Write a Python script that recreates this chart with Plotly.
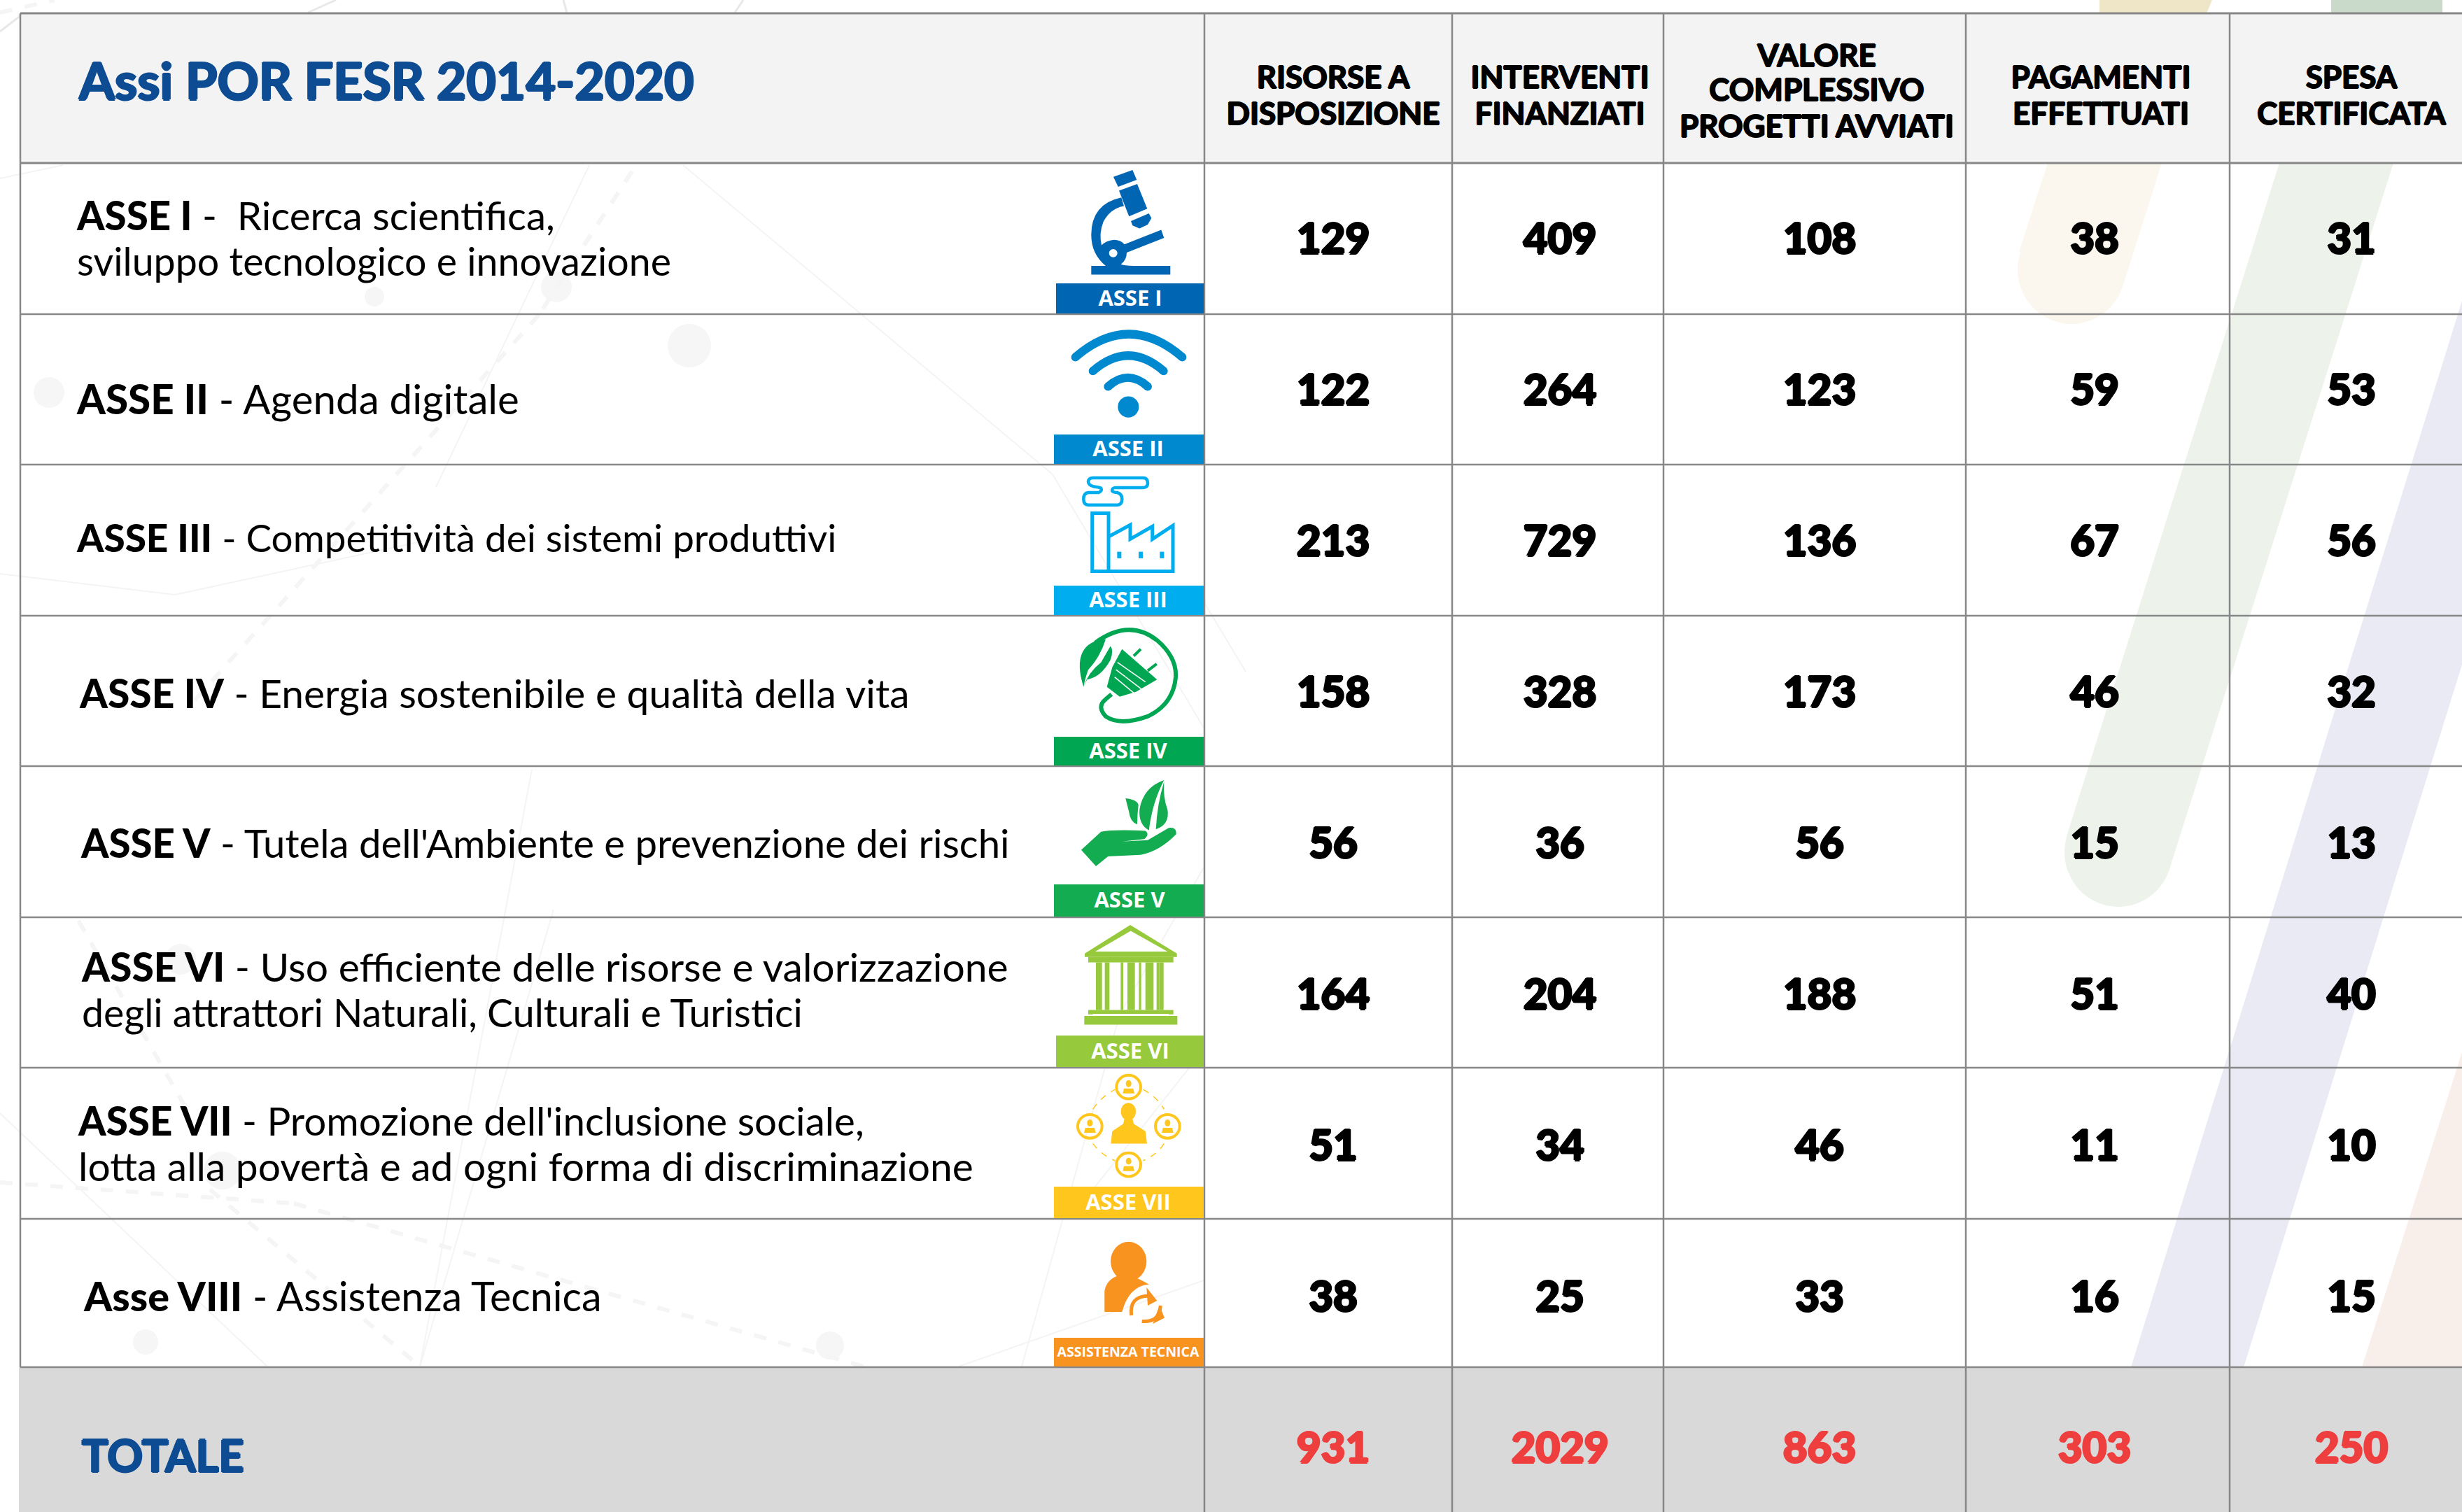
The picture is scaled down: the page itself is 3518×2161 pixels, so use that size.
import re
import plotly.graph_objects as go

# ---------- DATA ----------
title = "Assi POR FESR 2014-2020"
total_label = "TOTALE"
axis_names = ["ASSE I", "ASSE II", "ASSE III", "ASSE IV", "ASSE V", "ASSE VI", "ASSE VII", "Asse VIII"]
axis_desc = [
    ["-  Ricerca scientifica,", "sviluppo tecnologico e innovazione"],
    ["- Agenda digitale"],
    ["- Competitività dei sistemi produttivi"],
    ["- Energia sostenibile e qualità della vita"],
    ["- Tutela dell'Ambiente e prevenzione dei rischi"],
    ["- Uso efficiente delle risorse e valorizzazione", "degli attrattori Naturali, Culturali e Turistici"],
    ["- Promozione dell'inclusione sociale,", "lotta alla povertà e ad ogni forma di discriminazione"],
    ["- Assistenza Tecnica"],
]
badge_labels = ["ASSE I", "ASSE II", "ASSE III", "ASSE IV", "ASSE V", "ASSE VI", "ASSE VII", "ASSISTENZA TECNICA"]
col_headers = [
    ["RISORSE A", "DISPOSIZIONE"],
    ["INTERVENTI", "FINANZIATI"],
    ["VALORE", "COMPLESSIVO", "PROGETTI AVVIATI"],
    ["PAGAMENTI", "EFFETTUATI"],
    ["SPESA", "CERTIFICATA"],
]
risorse = [129, 122, 213, 158, 56, 164, 51, 38]
interventi = [409, 264, 729, 328, 36, 204, 34, 25]
valore = [108, 123, 136, 173, 56, 188, 46, 33]
pagamenti = [38, 59, 67, 46, 15, 51, 11, 16]
spesa = [31, 53, 56, 32, 13, 40, 10, 15]
totali = [931, 2029, 863, 303, 250]

# ---------- LAYOUT GEOMETRY (pixel axis units) ----------
W, H = 3518, 2161
row_lines = [233, 449, 664, 880, 1095, 1311, 1526, 1742, 1954]
col_lines = [1721, 2075, 2377, 2809, 3186]
col_centers = [1905, 2229, 2600, 2993, 3360]
hdr_centers = [1905, 2229, 2596, 3002, 3360]
row_value_y = [347, 563, 779, 995, 1211, 1427, 1643, 1859]
total_y = 2075
label_x = [110, 110, 110, 114, 116, 117, 112, 120]
label_y = [[315, 380], [577], [775], [998], [1212], [1389, 1454], [1609, 1674], [1860]]
label_size = [[56.4, 55.5], [58.3], [54.8], [56.9], [56.3], [57, 55.5], [56.5, 56.9], [57.5]]
hdr_y = [[115, 167], [115, 167], [84, 133, 185], [115, 167], [115, 167]]
badge_x0 = [1509, 1506, 1506, 1506, 1506, 1509, 1506, 1506]
badge_y0 = [405, 621, 837, 1053, 1264, 1480, 1696, 1912]
badge_colors = ["#0066B3", "#0089CF", "#00AEEF", "#00A651", "#13AC51", "#97C93C", "#FFC61E", "#F7931E"]
badge_cx = [1615, 1612, 1612, 1612, 1614, 1615, 1612, 1612]

GRID = "#878787"
BLACK = "#000000"
BLUE = "#0D4C92"
RED = "#EE3E3E"

shapes = []


def rect(x0, y0, x1, y1, fill, layer="below"):
    shapes.append(dict(type="rect", xref="x", yref="y", x0=x0, y0=y0, x1=x1, y1=y1,
                       fillcolor=fill, line=dict(width=0), layer=layer))


def seg(x0, y0, x1, y1, color, w, dash="solid", layer="below"):
    shapes.append(dict(type="line", xref="x", yref="y", x0=x0, y0=y0, x1=x1, y1=y1,
                       line=dict(color=color, width=w, dash=dash), layer=layer))


def circ(cx, cy, rx, ry, fill, layer="below", line=None):
    shapes.append(dict(type="circle", xref="x", yref="y", x0=cx - rx, x1=cx + rx, y0=cy - ry, y1=cy + ry,
                       fillcolor=fill, line=line or dict(width=0), layer=layer))


def poly(d, fill=None, stroke=None, w=0, layer="below", dash="solid"):
    shapes.append(dict(type="path", xref="x", yref="y", path=d,
                       fillcolor=fill if fill else "rgba(0,0,0,0)",
                       line=dict(color=stroke if stroke else "rgba(0,0,0,0)", width=w, dash=dash), layer=layer))


# transforms from zoom-crop coordinates to page pixels
def T3(x, y):
    return 1440 + x / 3, 220 + y / 2.376


def T4(x, y):
    return 1440 + x / 3, 880 + y / 1.425


def P(d, T):
    toks = re.findall(r"[MLQCZ]|-?[\d.]+", d)
    out, buf = [], []
    for t in toks:
        if t in "MLQCZ":
            out.append(t)
        else:
            buf.append(float(t))
            if len(buf) == 2:
                x, y = T(*buf)
                out.append(f"{x:.1f},{y:.1f}")
                buf = []
    s = ""
    for t in out:
        s += t if t in "MLQCZ" else t + " "
    return s


def Z(d, T, fill=None, stroke=None, w=0, dash="solid"):
    poly(P(d, T), fill, stroke, w, "below", dash)


def E(cx, cy, rx, ry, T, fill, stroke=None, w=0):
    x, y = T(cx, cy)
    x1, y1 = T(cx + rx, cy + ry)
    circ(x, y, x1 - x, y1 - y, fill, "below", dict(color=stroke, width=w) if stroke else None)


def R(x0, y0, x1, y1, T, fill):
    a, b = T(x0, y0)
    c, d = T(x1, y1)
    rect(a, b, c, d, fill, "below")


# ---------- BACKGROUND ----------
PALE = "#F4F4F4"
for (x, y, r) in [(985, 494, 31), (70, 561, 22), (208, 1918, 18), (1186, 1923, 20), (318, 1673, 27),
                  (795, 410, 22), (535, 424, 14), (258, 1371, 22)]:
    circ(x, y, r, r, "#F6F6F6")
for (a, b, c, d) in [(976, 236, 1504, 678), (842, 236, 623, 696), (791, 1300, 600, 1953), (0, 1591, 382, 1953),
                     (0, 255, 90, 236), (1504, 678, 1720, 1040), (600, 1953, 760, 1100), (0, 820, 250, 850),
                     (250, 850, 620, 770), (1720, 860, 1780, 960), (1720, 1240, 1600, 1450), (1600, 1450, 1460, 1953),
                     (1720, 1500, 1530, 1740), (1720, 1830, 1370, 1953)]:
    seg(a, b, c, d, PALE, 2)
for (a, b, c, d) in [(903, 245, 770, 450), (770, 450, 270, 1010), (112, 1316, 270, 1591), (0, 1690, 420, 1720),
                     (420, 1720, 1234, 1953), (0, 18, 78, 0), (300, 1700, 600, 1953)]:
    seg(a, b, c, d, "#F5F5F5", 6, "dash")
for (a, b, c, d) in [(440, 18, 480, 0), (1050, 18, 1062, 0), (810, 18, 805, 0), (0, 45, 35, 18)]:
    seg(a, b, c, d, "#E8E8E8", 3)

# diagonal pastel stripes
STRIPE_Y = "#FBF7EF"
STRIPE_G = "#EDF2EB"
STRIPE_L = "#E9EAF3"
STRIPE_P = "#F8EEEA"
poly("M 3000,0 L 3161,0 L 3153,19 L 3000,19 Z", "#EFE6C8")
poly("M 2926,233 L 3089,233 L 3033,410 L 2885,360 Z", STRIPE_Y)
circ(2960, 385, 77, 78, STRIPE_Y)
poly("M 3331,0 L 3490,0 L 3490,19 L 3331,19 Z", "#C9D9CA")
poly("M 3257,233 L 3420,233 L 3100,1242 L 2953,1195 Z", STRIPE_G)
circ(3027, 1218, 77, 78, STRIPE_G)
poly("M 3518,430 L 3518,950 L 3206,1954 L 3045,1954 Z", STRIPE_L)
poly("M 3518,1504 L 3518,1954 L 3375,1954 Z", STRIPE_P)

# ---------- TABLE FRAME ----------
rect(29, 19, W, 233, "#F3F3F3")
rect(27, 1954, W, H, "#D9D9D9")
for y in [19, 233]:
    seg(29, y, W, y, GRID, 3)
for y in row_lines[1:]:
    seg(29, y, W, y, GRID, 2.5)
seg(29, 19, 29, 1954, GRID, 2.5)
for x in col_lines:
    seg(x, 19, x, H, GRID, 2.5)

# ---------- BADGES ----------
for i in range(8):
    rect(badge_x0[i], badge_y0[i], 1720, row_lines[i + 1] - 1, badge_colors[i])

# ---------- ICONS ----------
c = badge_colors[0]
Z("M 453,78 L 535,55 L 553,88 L 473,112 Z", T3, c)
Z("M 477,125 L 555,102 L 598,186 L 520,212 Z", T3, c)
Z("M 528,228 L 605,202 L 616,218 L 600,240 L 565,253 L 535,243 Z", T3, c)
Z("M 487,148 Q 358,170 358,275 Q 358,340 420,380 L 358,380 L 358,410 L 697,410 L 697,380 L 540,380 Q 500,380 485,375 "
  "Q 510,360 510,335 L 670,285 L 658,258 L 500,307 Q 480,290 450,292 Q 420,295 402,310 Q 390,270 410,230 Q 440,185 498,177 Z", T3, c)
E(452, 337, 18, 14, T3, "#FFFFFF")

c = badge_colors[1]
for (a, b, cc, wd, r) in [(290, 690, 534, 748, 18), (365, 737, 633, 668, 18), (430, 790, 730, 600, 18)]:
    Z(f"M {a},{b} Q {(a + wd) / 2},{cc} {wd},{b}", T3, None, c, 12)
    E(a, b, r, r * 0.79 * 1.0, T3, c)
    E(wd, b, r, r * 0.79, T3, c)
E(517, 859, 45, 36, T3, c)

c = badge_colors[2]
Z("M 365,1100 L 580,1100 Q 600,1100 600,1118 Q 600,1133 580,1133 L 460,1133 Q 445,1135 448,1145 Q 455,1150 470,1150 "
  "Q 490,1155 490,1172 Q 490,1192 470,1192 L 345,1192 Q 325,1192 325,1172 Q 325,1152 345,1150 L 390,1150 "
  "Q 405,1145 400,1135 Q 390,1132 370,1130 Q 345,1125 345,1112 Q 348,1100 365,1100 Z", T3, None, c, 4.5)
Z("M 362,1220 L 432,1220 L 432,1417 L 362,1417 Z", T3, None, c, 5)
Z("M 432,1300 L 525,1260 L 525,1308 L 620,1265 L 620,1308 L 708,1262 L 708,1417 L 432,1417", T3, None, c, 5)
for wx in (478, 570, 661):
    R(wx - 9, 1351, wx + 9, 1373, T3, c)

c = badge_colors[3]
Z("M 375,55 Q 520,5 640,50 Q 725,85 720,125 Q 710,180 600,205 Q 480,225 420,205 Q 380,185 420,170 L 445,160", T4, None, c, 6)
Z("M 325,145 Q 295,100 320,75 Q 345,50 420,48 Q 395,85 345,110 Q 330,130 325,145 Z", T4, c)
Z("M 325,145 Q 345,115 400,95 L 440,62 Q 455,70 440,90 Q 400,125 340,130 Z", T4, c)
Z("M 448,105 L 490,68 L 640,130 L 550,155 L 480,165 L 425,145 Z", T4, c)
for dy in (0, 15, 30):
    Z(f"M {470 - dy * 0.4},{95 + dy} L {590 - dy * 1.0},{135 + dy}", T4, None, "#FFFFFF", 1.5)
Z("M 540,82 L 570,68", T4, None, c, 4)
Z("M 600,112 L 638,98", T4, None, c, 4)

c = badge_colors[4]
Z("M 315,477 L 400,440 Q 450,435 590,438 Q 610,445 585,455 L 490,460 L 600,457 L 690,432 Q 725,430 722,445 "
  "Q 650,480 570,487 L 430,490 L 378,510 Z", T4, c)
Z("M 670,335 Q 580,350 565,395 Q 560,425 605,437 Q 620,380 670,335 Z", T4, c)
Z("M 670,338 Q 640,385 635,435 Q 695,425 685,395 Q 665,370 670,338 Z", T4, c)
Z("M 505,372 Q 555,375 560,385 Q 555,405 555,425 Q 525,420 520,400 Z", T4, c)

c = badge_colors[5]
Z("M 330,688 L 525,630 L 725,688 L 725,695 L 330,695 Z", T4, c)
Z("M 375,684 L 527,642 L 685,684 Z", T4, "#FFFFFF")
R(345, 695, 710, 706, T4, c)
for (a, b) in [(378, 404), (416, 436), (484, 495), (513, 545), (562, 572), (590, 625), (638, 650), (650, 668)]:
    R(a, 706, b, 803, T4, c)
R(345, 803, 710, 812, T4, c)
R(328, 815, 727, 833, T4, c)
R(365, 811, 690, 814, T4, "#FFFFFF")

c = badge_colors[6]
E(517, 1010, 32, 18, T4, c)
Z("M 442,1075 L 448,1050 L 495,1035 L 500,1025 L 535,1025 L 540,1035 L 590,1050 L 597,1075 Z", T4, c)
for (a, b) in [(518, 960), (352, 1040), (685, 1040), (518, 1118)]:
    E(a, b, 52, 24, T4, "rgba(0,0,0,0)", c, 4)
    E(a, b - 7, 12, 7, T4, c)
    Z(f"M {a - 25},{b + 13} L {a - 20},{b + 3} L {a + 20},{b + 3} L {a + 25},{b + 13} Z", T4, c)
for d in ["M 365,1005 Q 400,980 460,965", "M 580,965 Q 640,980 670,1005", "M 670,1075 Q 640,1098 580,1110",
          "M 365,1075 Q 400,1098 460,1110"]:
    Z(d, T4, None, c, 1.5, "dash")

c = badge_colors[7]
E(518, 1315, 77, 40, T4, c)
Z("M 415,1418 L 415,1375 Q 425,1350 480,1343 Q 530,1340 605,1362 Q 520,1365 490,1418 Z", T4, c)
Z("M 530,1425 Q 520,1385 608,1385", T4, None, c, 5)
Z("M 655,1405 Q 650,1440 575,1437", T4, None, c, 5)
Z("M 595,1368 L 640,1395 L 600,1405 Z", T4, c)
Z("M 622,1442 L 672,1430 L 650,1405 Z", T4, c)

# ---------- TEXT TRACES ----------
FONT_BODY = "Lato"
fig = go.Figure()


def thick(color, px):
    return (f"{px}px 0 0 {color}, -{px}px 0 0 {color}, 0 {px}px 0 {color}, 0 -{px}px 0 {color}")


def txt(xs, ys, texts, size, color, family, pos, weight=None, shadow=None):
    fig.add_trace(go.Scatter(x=xs, y=ys, text=texts, mode="text", textposition=pos, cliponaxis=False,
                             hoverinfo="skip", showlegend=False,
                             textfont=dict(size=size, color=color, family=family, weight=weight, shadow=shadow)))


txt([113], [124], [f"<b>{title}</b>"], 73.4, BLUE, FONT_BODY, "middle right", None, thick(BLUE, 1.5))
txt([117], [2088], [f"<b>{total_label}</b>"], 63, BLUE, FONT_BODY, "middle right", None, thick(BLUE, 1.5))

hx, hy, ht = [], [], []
for i, lines in enumerate(col_headers):
    for j, s in enumerate(lines):
        hx.append(hdr_centers[i]); hy.append(hdr_y[i][j]); ht.append(f"<b>{s}</b>")
txt(hx, hy, ht, 44, BLACK, FONT_BODY, "middle center", None, thick(BLACK, 1))

lx, ly, lt, ls = [], [], [], []
for i, lines in enumerate(axis_desc):
    for j, s in enumerate(lines):
        lx.append(label_x[i]); ly.append(label_y[i][j]); ls.append(label_size[i][j])
        head = f'<span style="font-weight:900">{axis_names[i]}</span> ' if j == 0 else ""
        lt.append(head + s)
txt(lx, ly, lt, ls, BLACK, FONT_BODY, "middle right")

columns = [risorse, interventi, valore, pagamenti, spesa]
vx, vy, vt = [], [], []
for i, col in enumerate(columns):
    for j, v in enumerate(col):
        vx.append(col_centers[i]); vy.append(row_value_y[j]); vt.append(str(v))
txt(vx, vy, vt, 60, BLACK, FONT_BODY, "middle center", 900, thick(BLACK, 1.5))
txt(col_centers, [total_y] * 5, [str(v) for v in totali], 60, RED, FONT_BODY, "middle center", 900, thick(RED, 1.5))

txt(badge_cx[:7], [(badge_y0[i] + row_lines[i + 1]) / 2 + 2 for i in range(7)], [f"<b>{s}</b>" for s in badge_labels[:7]],
    31, "#FFFFFF", "Open Sans", "middle center")
txt(badge_cx[7:], [(badge_y0[7] + row_lines[8]) / 2 + 1], [f"<b>{badge_labels[7]}</b>"], 19.5, "#FFFFFF", "Open Sans", "middle center")

fig.update_layout(
    width=W, height=H, margin=dict(l=0, r=0, t=0, b=0),
    paper_bgcolor="#FFFFFF", plot_bgcolor="rgba(0,0,0,0)", showlegend=False,
    xaxis=dict(range=[0, W], visible=False, fixedrange=True),
    yaxis=dict(range=[H, 0], visible=False, fixedrange=True),
    shapes=shapes,
)
fig.write_html("out.html", config=dict(displayModeBar=False), post_script="document.body.style.margin='0';")
